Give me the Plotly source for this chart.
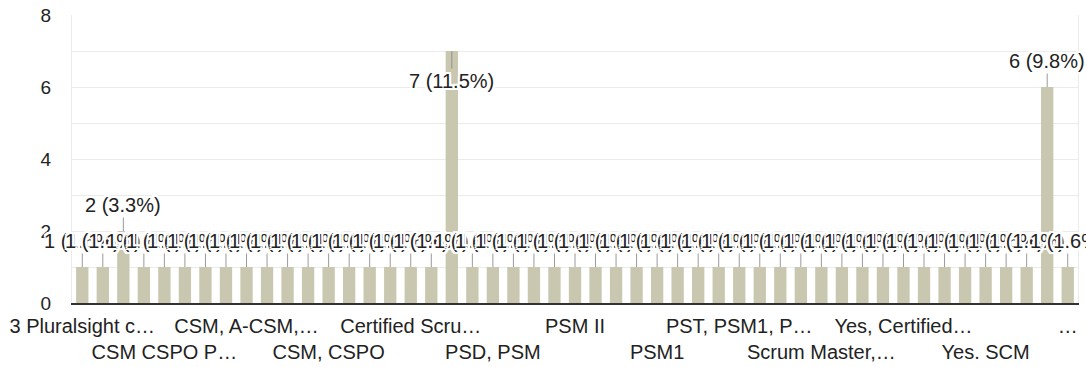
import plotly.graph_objects as go

# Number of respondents per answer (answers sorted alphabetically, 49 distinct answers)
response_counts = [
    1, 1, 2, 1, 1, 1, 1, 1, 1, 1,
    1, 1, 1, 1, 1, 1, 1, 1, 7, 1,
    1, 1, 1, 1, 1, 1, 1, 1, 1, 1,
    1, 1, 1, 1, 1, 1, 1, 1, 1, 1,
    1, 1, 1, 1, 1, 1, 1, 6, 1,
]

# Axis labels shown for every fourth answer
tick_labels = [
    "3 Pluralsight c…", "CSM CSPO P…", "CSM, A-CSM,…", "CSM, CSPO",
    "Certified Scru…", "PSD, PSM", "PSM II", "PSM1",
    "PST, PSM1, P…", "Scrum Master,…", "Yes, Certified…", "Yes. SCM", "…",
]
y_ticks = [0, 2, 4, 6, 8]

FONT = "Arial, 'Liberation Sans', sans-serif"
BAR_COLOR = "#c9c7b0"
TEXT_COLOR = "#222222"
HALO = ", ".join(
    f"{dx}px {dy}px 0 #ffffff"
    for dx, dy in [(2, 0), (-2, 0), (0, 2), (0, -2), (2, 2), (-2, -2), (2, -2), (-2, 2)]
)

total = sum(response_counts)
positions = list(range(len(response_counts)))
step = len(response_counts) // (len(tick_labels) - 1)
tick_positions = positions[::step]
# alternate labels between two rows so neighbours do not collide
tick_text = [lbl if k % 2 == 0 else "<br>" + lbl for k, lbl in enumerate(tick_labels)]

fig = go.Figure(
    go.Bar(
        x=positions,
        y=response_counts,
        marker=dict(color=BAR_COLOR, line=dict(width=0)),
        width=0.6,
        hoverinfo="skip",
    )
)

ymax = 8
annotations = []
for i, v in zip(positions, response_counts):
    label = f"{v} ({v / total * 100:.1f}%)"
    # labels that would run off the top sit inside the bar instead
    offset = 30 if v >= ymax - 1 else -26
    annotations.append(
        dict(
            x=i, y=v, xref="x", yref="y",
            text=label,
            showarrow=True, arrowhead=0, arrowwidth=1,
            arrowcolor="#8f8f8f" if offset > 0 else "#9a9a9a",
            ax=0, ay=offset, standoff=0,
            font=dict(family=FONT, size=20, color=TEXT_COLOR, shadow=HALO),
        )
    )

fig.update_layout(
    width=1086,
    height=367,
    margin=dict(l=72, r=8, t=15, b=64, autoexpand=False),
    paper_bgcolor="white",
    plot_bgcolor="white",
    showlegend=False,
    font=dict(family=FONT, size=20, color=TEXT_COLOR),
    annotations=annotations,
    xaxis=dict(
        range=[-0.5, len(response_counts) - 0.5],
        tickmode="array",
        tickvals=tick_positions,
        ticktext=tick_text,
        tickangle=0,
        showgrid=False,
        zeroline=False,
        showline=True,
        linecolor="#333333",
        linewidth=2,
        ticks="",
        ticklabelstandoff=4,
        automargin=False,
        tickfont=dict(family=FONT, size=20, color=TEXT_COLOR),
    ),
    yaxis=dict(
        range=[0, ymax],
        tickmode="array",
        tickvals=y_ticks,
        showgrid=True,
        gridcolor="#ebebeb",
        gridwidth=1,
        minor=dict(dtick=1, showgrid=True, gridcolor="#ebebeb", gridwidth=1),
        zeroline=False,
        showline=True,
        linecolor="#ebebeb",
        mirror=True,
        ticks="",
        ticklabelstandoff=16,
        automargin=False,
        tickfont=dict(family=FONT, size=19, color=TEXT_COLOR),
    ),
)

fig.write_html("out.html")
